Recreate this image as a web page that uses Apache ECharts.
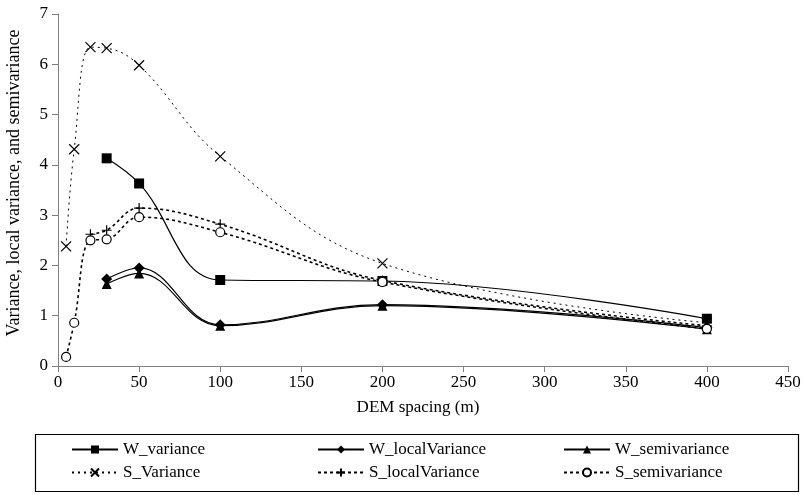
<!DOCTYPE html>
<html>
<head>
<meta charset="utf-8">
<script src="https://cdn.jsdelivr.net/npm/echarts@6/dist/echarts.min.js"></script>
<style>
  html, body { margin: 0; padding: 0; background: #fff; }
  #chart { width: 804px; height: 495px; }
</style>
</head>
<body>
<div id="chart"></div>
<script>
// DEM spacing (m)
var spacing = [5, 10, 20, 30, 50, 100, 200, 400];
// values, null where the series has no point
var wVariance      = [null, null, null, 4.13, 3.63, 1.71, 1.69, 0.94];
var wLocalVariance = [null, null, null, 1.73, 1.95, 0.82, 1.22, 0.76];
var wSemivariance  = [null, null, null, 1.63, 1.84, 0.80, 1.20, 0.73];
var sVariance      = [2.38, 4.31, 6.34, 6.32, 5.98, 4.17, 2.04, 0.86];
var sLocalVariance = [null, null, 2.62, 2.70, 3.14, 2.82, 1.70, 0.80];
var sSemivariance  = [0.18, 0.86, 2.50, 2.52, 2.96, 2.66, 1.67, 0.74];

function pairs(vals) {
  var out = [];
  vals.forEach(function (v, i) {
    if (v !== null) out.push([spacing[i], v]);
  });
  return out;
}

var serif = '"Liberation Serif", "Times New Roman", serif';
var xSym = 'path://M0,0L10,10M10,0L0,10';
var plusSym = 'path://M5,0L5,10M0,5L10,5';

function solid(name, vals, symbol, size) {
  return {
    name: name, type: 'line', smooth: 0.4, data: pairs(vals),
    symbol: symbol, symbolSize: size,
    itemStyle: { color: '#000' },
    lineStyle: { color: '#000', width: 1.2, type: 'solid' }
  };
}
function dotted(name, vals, symbol, size, dash, width, filled) {
  return {
    name: name, type: 'line', smooth: 0.4, data: pairs(vals),
    symbol: symbol, symbolSize: size,
    itemStyle: { color: filled ? '#000' : '#fff', borderColor: '#000', borderWidth: 1.2 },
    lineStyle: { color: '#000', width: width, type: dash }
  };
}

var legendText = { fontFamily: serif, fontSize: 17, color: '#000' };

var chart = echarts.init(document.getElementById('chart'));
chart.setOption({
  backgroundColor: '#fff',
  animation: false,
  textStyle: { fontFamily: serif, color: '#000' },
  grid: { left: 58, right: 16, top: 14, bottom: 129, outerBoundsMode: 'none' },
  xAxis: {
    type: 'value', min: 0, max: 450, interval: 50,
    name: 'DEM spacing (m)', nameLocation: 'middle', nameGap: 33,
    nameTextStyle: { fontFamily: serif, fontSize: 17, color: '#000', padding: [0, 10, 0, 0] },
    axisLine: { lineStyle: { color: '#808080' } },
    axisTick: { length: 6, lineStyle: { color: '#808080' } },
    axisLabel: { fontFamily: serif, fontSize: 17, color: '#000', margin: 8 },
    splitLine: { show: false }
  },
  yAxis: {
    type: 'value', min: 0, max: 7, interval: 1,
    name: 'Variance, local variance, and semivariance', nameLocation: 'middle', nameGap: 35,
    nameTextStyle: { fontFamily: serif, fontSize: 18, color: '#000', padding: [0, 0, 0, 14] },
    axisLine: { show: true, lineStyle: { color: '#808080' } },
    axisTick: { show: true, length: 6, lineStyle: { color: '#808080' } },
    axisLabel: { fontFamily: serif, fontSize: 17, color: '#000', margin: 10 },
    splitLine: { show: false }
  },
  legend: [
    { orient: 'vertical', left: 66, top: 436, itemWidth: 46, itemHeight: 10, itemGap: 6,
      textStyle: legendText, data: ['W_variance', 'S_Variance'] },
    { orient: 'vertical', left: 312, top: 436, itemWidth: 46, itemHeight: 10, itemGap: 6,
      textStyle: legendText, data: ['W_localVariance', 'S_localVariance'] },
    { orient: 'vertical', left: 558, top: 436, itemWidth: 46, itemHeight: 10, itemGap: 6,
      textStyle: legendText, data: ['W_semivariance', 'S_semivariance'] }
  ],
  graphic: [{
    type: 'rect', left: 33, top: 432,
    shape: { width: 763, height: 57 },
    style: { fill: 'none', stroke: '#000', lineWidth: 1.2 }
  }],
  series: [
    solid('W_variance', wVariance, 'rect', 10),
    solid('W_localVariance', wLocalVariance, 'diamond', 11),
    solid('W_semivariance', wSemivariance, 'triangle', 10),
    dotted('S_Variance', sVariance, xSym, 10, [2, 4], 1, true),
    dotted('S_localVariance', sLocalVariance, plusSym, 10, [3, 3], 1.6, true),
    dotted('S_semivariance', sSemivariance, 'circle', 9, [3, 3], 1.6, false)
  ]
});
</script>
</body>
</html>
